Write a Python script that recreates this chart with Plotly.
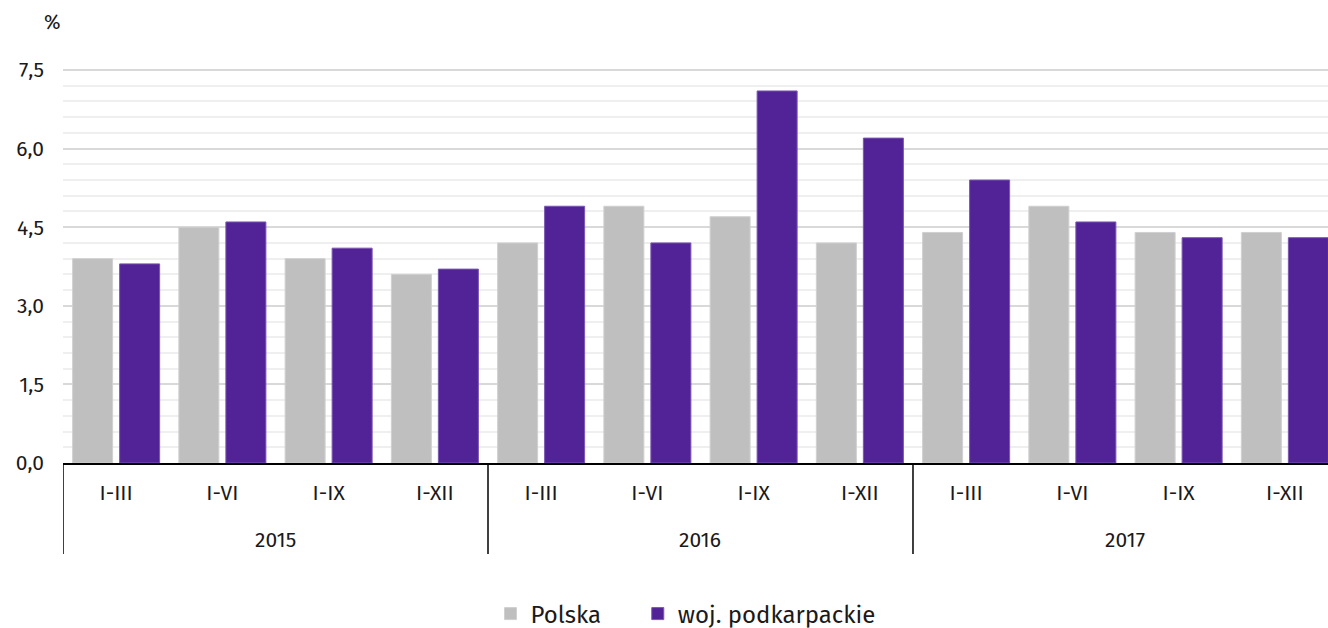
import plotly.graph_objects as go

years = ["2015", "2016", "2017"]
periods = ["I-III", "I-VI", "I-IX", "I-XII"]
polska = [3.9, 4.5, 3.9, 3.6, 4.2, 4.9, 4.7, 4.2, 4.4, 4.9, 4.4, 4.4]
podkarpackie = [3.8, 4.6, 4.1, 3.7, 4.9, 4.2, 7.1, 6.2, 5.4, 4.6, 4.3, 4.3]
y_ticks = [0, 1.5, 3.0, 4.5, 6.0, 7.5]

x_keys = [f"{y} {p}" for y in years for p in periods]
x_text = [p for _ in years for p in periods]
n_per = len(periods)

FONT = "Fira Sans, Open Sans, sans-serif"
PL, PT, PB = 63, 66, 463
PH = PB - PT
Y_TOP = PH / ((PB - 70) / 7.5)

fig = go.Figure()
fig.add_bar(x=x_keys, y=polska, name="Polska" + "\u00a0" * 5,
            marker=dict(color="#bfbfbf", line=dict(color="#d0d0d0", width=1)))
fig.add_bar(x=x_keys, y=podkarpackie, name="woj. podkarpackie",
            marker=dict(color="#522396", line=dict(color="#7a55b3", width=1)))

annotations = [dict(text="%", xref="paper", yref="paper", x=(52 - PL) / (1328 - PL),
                    y=(PB - 22) / PH, xanchor="center", yanchor="middle",
                    showarrow=False, font=dict(size=20))]
for i, yr in enumerate(years):
    annotations.append(dict(text=yr, xref="x", yref="paper", x=i * n_per + (n_per - 1) / 2,
                            y=-(540 - PB) / PH, xanchor="center", yanchor="middle",
                            showarrow=False, font=dict(size=21)))
shapes = []
for i in range(len(years) + 1):
    shapes.append(dict(type="line", xref="x", yref="paper", x0=i * n_per - 0.5, x1=i * n_per - 0.5,
                       y0=0, y1=-(554 - PB) / PH, line=dict(color="black", width=1.5)))

fig.update_layout(
    width=1328, height=628,
    margin=dict(l=PL, r=0, t=PT, b=628 - PB, autoexpand=False),
    plot_bgcolor="white", paper_bgcolor="white",
    font=dict(family=FONT, size=21, color="#1a1a1a"),
    separators=", ",
    barmode="group", bargap=0.115, bargroupgap=0.149,
    showlegend=True,
    legend=dict(orientation="h", x=0.5 - 10 / (1328 - PL), xanchor="center",
                yref="container", y=1 - 614 / 628, yanchor="middle",
                font=dict(size=24), itemwidth=30),
    annotations=annotations,
    shapes=shapes,
)
fig.update_xaxes(
    type="category", range=[-0.5, 11.406], automargin=False,
    tickvals=x_keys, ticktext=x_text,
    showline=True, linecolor="black", linewidth=1.5,
    showgrid=False, ticks="", tickfont=dict(size=21), ticklabelstandoff=10,
)
fig.update_yaxes(
    range=[0, Y_TOP], tickvals=y_ticks, tickformat=".1f", automargin=False,
    showgrid=True, gridcolor="#d9d9d9", gridwidth=2,
    minor=dict(dtick=0.3, showgrid=True, gridcolor="#efefef", gridwidth=2),
    zeroline=False, showline=False, ticks="", ticklabelstandoff=18,
    tickfont=dict(size=21),
)

fig.write_html("out.html", config={"displayModeBar": False},
               post_script="document.body.style.margin='0';")
